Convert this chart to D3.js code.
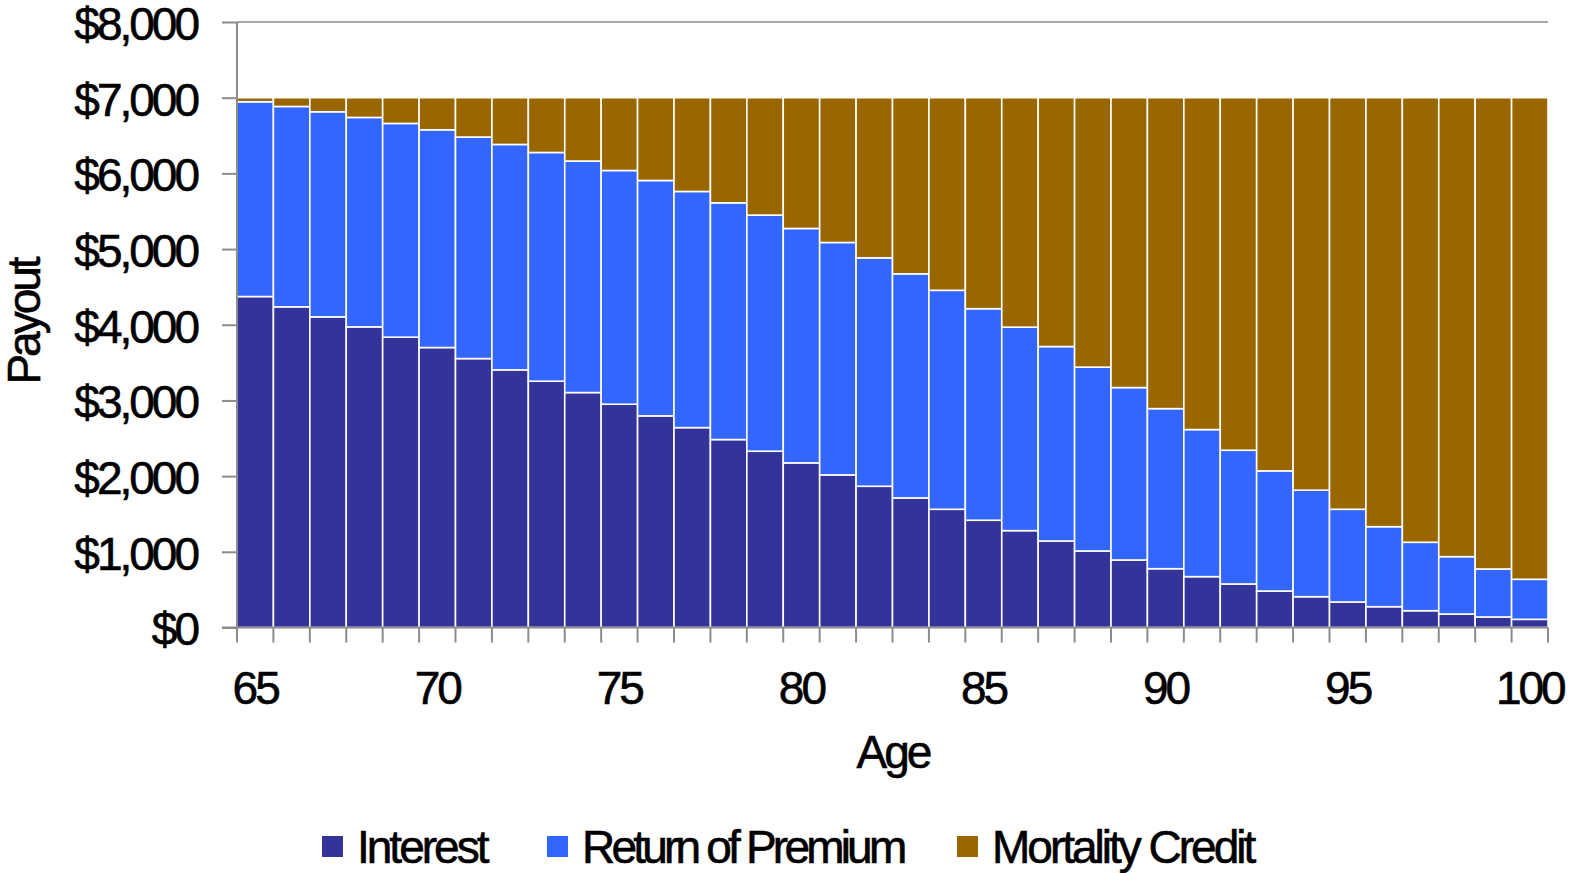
<!DOCTYPE html>
<html>
<head>
<meta charset="utf-8">
<script src="https://cdn.jsdelivr.net/npm/d3@7"></script>
<style>
  html, body { margin: 0; padding: 0; background: #fff; }
  svg { display: block; }
  text {
    font-family: "Liberation Sans", Arial, sans-serif;
    fill: #000;
    stroke: #000;
    stroke-width: 0.6px;
    font-size: 46px;
    letter-spacing: -3px;
  }
</style>
</head>
<body>
<svg id="chart" width="1569" height="873"></svg>
<script>
// Annual annuity payout split into its three sources, ages 65 to 100
const ages = d3.range(65, 101);
const interest = [4373, 4237, 4104, 3972, 3836, 3699, 3553, 3404, 3254, 3104, 2950, 2796,
  2641, 2483, 2329, 2175, 2016, 1866, 1712, 1562, 1417, 1280, 1143, 1011,
  892, 777, 672, 575, 482, 407, 337, 275, 222, 178, 139, 108];
const returnOfPremium = [2573, 2647, 2710, 2767, 2824, 2877, 2927, 2978, 3022, 3059, 3088, 3110,
  3120, 3128, 3120, 3097, 3071, 3018, 2961, 2893, 2795, 2688, 2569, 2429,
  2278, 2115, 1943, 1767, 1587, 1407, 1225, 1057, 904, 758, 634, 529];
const mortalityCredit = [54, 116, 186, 261, 340, 424, 520, 618, 724, 837, 962, 1094,
  1239, 1389, 1551, 1728, 1913, 2116, 2327, 2545, 2788, 3032, 3288, 3560,
  3830, 4108, 4385, 4658, 4931, 5186, 5438, 5668, 5874, 6064, 6227, 6363];
const seriesNames = ["Interest", "Return of Premium", "Mortality Credit"];
const seriesColors = ["#333399", "#3366FF", "#996600"];
const yTicks = [0, 1000, 2000, 3000, 4000, 5000, 6000, 7000, 8000];
const xLabels = [65, 70, 75, 80, 85, 90, 95, 100];

const rows = ages.map((age, i) => ({
  age,
  "Interest": interest[i],
  "Return of Premium": returnOfPremium[i],
  "Mortality Credit": mortalityCredit[i]
}));

const svg = d3.select("#chart");
const plotLeft = 237, plotRight = 1548, plotTop = 22, plotBottom = 627.5;

const x = d3.scaleBand().domain(ages).range([plotLeft, plotRight]).padding(0);
const y = d3.scaleLinear().domain([0, 8000]).range([plotBottom, plotTop]);
const color = d3.scaleOrdinal().domain(seriesNames).range(seriesColors);

// light gridlines at every thousand
svg.append("g")
  .selectAll("line")
  .data(yTicks.filter(d => d > 0))
  .join("line")
  .attr("x1", plotLeft).attr("x2", plotRight)
  .attr("y1", d => y(d)).attr("y2", d => y(d))
  .attr("stroke", "#8c8c8c").attr("stroke-width", 1.5);

// stacked bars
const stacked = d3.stack().keys(seriesNames)(rows);
svg.append("g")
  .selectAll("g")
  .data(stacked)
  .join("g")
  .attr("fill", d => color(d.key))
  .selectAll("rect")
  .data(d => d)
  .join("rect")
  .attr("x", d => x(d.data.age))
  .attr("width", x.bandwidth())
  .attr("y", d => y(d[1]))
  .attr("height", d => y(d[0]) - y(d[1]))
  .attr("stroke", "#ffffff")
  .attr("stroke-width", 1.6);

// y axis
const yAxis = svg.append("g")
  .attr("transform", `translate(${plotLeft},0)`)
  .call(d3.axisLeft(y).tickValues(yTicks).tickSize(15).tickPadding(25)
    .tickFormat(d => "$" + d3.format(",")(d)));
yAxis.attr("font-family", null).attr("font-size", null);
yAxis.select(".domain").attr("stroke", "#8c8c8c").attr("stroke-width", 2)
  .attr("d", `M0,${plotTop}V${plotBottom}`);
yAxis.selectAll(".tick line").attr("stroke", "#8c8c8c").attr("stroke-width", 2);
yAxis.selectAll(".tick text")
  .attr("dy", "0.38em").attr("fill", "#000");

// x axis: a tick at every bar edge, labels every five years
const edges = ages.map(a => x(a)).concat([plotRight]);
const xAxisG = svg.append("g");
xAxisG.append("line")
  .attr("x1", plotLeft - 15).attr("x2", plotRight)
  .attr("y1", plotBottom).attr("y2", plotBottom)
  .attr("stroke", "#8c8c8c").attr("stroke-width", 2);
xAxisG.selectAll("line.edge")
  .data(edges)
  .join("line")
  .attr("class", "edge")
  .attr("x1", d => d).attr("x2", d => d)
  .attr("y1", plotBottom).attr("y2", plotBottom + 15)
  .attr("stroke", "#8c8c8c").attr("stroke-width", 2);
xAxisG.selectAll("text")
  .data(xLabels)
  .join("text")
  .attr("x", d => x(d) + x.bandwidth() / 2)
  .attr("y", 704)
  .attr("text-anchor", "middle")
  .text(d => d);

// axis titles
svg.append("text")
  .attr("x", 893).attr("y", 768)
  .attr("text-anchor", "middle")
  .text("Age");
svg.append("text")
  .attr("transform", "translate(40,322) rotate(-90)")
  .attr("text-anchor", "middle")
  .text("Payout");

// legend
const legendPos = [322, 547, 957];
const legendSpacing = [-3, -3.8, -3];
const legend = svg.append("g")
  .selectAll("g")
  .data(seriesNames)
  .join("g")
  .attr("transform", (d, i) => `translate(${legendPos[i]},0)`);
legend.append("rect")
  .attr("x", 0).attr("y", 836).attr("width", 21).attr("height", 21)
  .attr("fill", d => color(d));
legend.append("text")
  .attr("x", 35).attr("y", 863)
  .style("letter-spacing", (d, i) => legendSpacing[i] + "px")
  .text(d => d);
</script>
</body>
</html>
